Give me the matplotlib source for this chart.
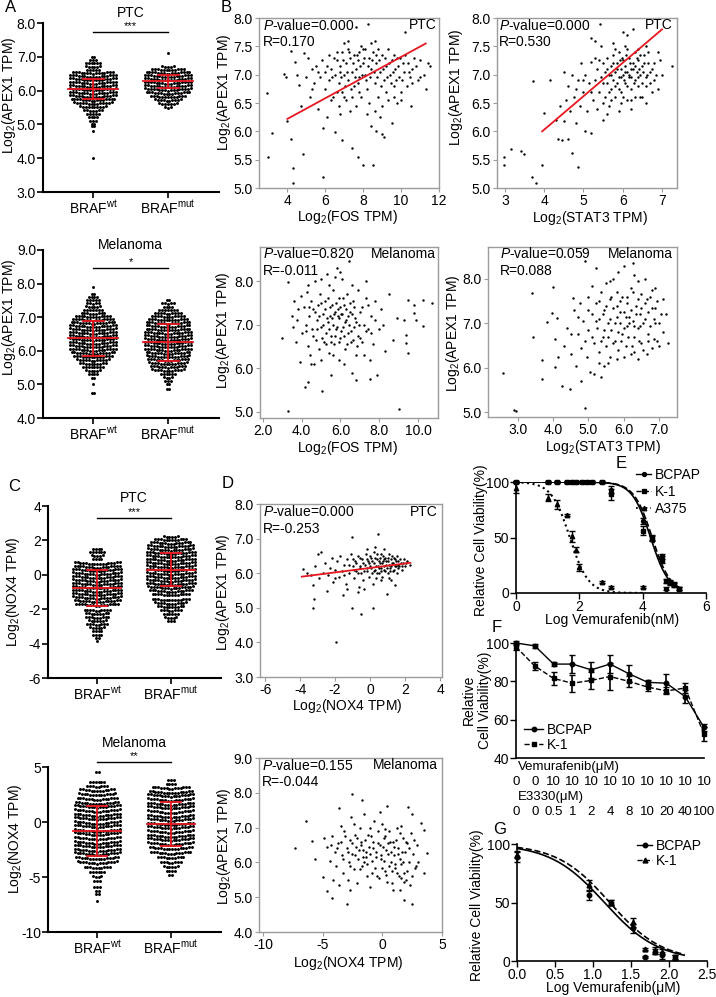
import numpy as np
import matplotlib
matplotlib.use("Agg")
import matplotlib.pyplot as plt
from matplotlib.lines import Line2D
from matplotlib.ticker import FormatStrFormatter
from matplotlib.transforms import blended_transform_factory

plt.rcParams["font.family"] = ["Liberation Sans", "DejaVu Sans"]
plt.rcParams["mathtext.fontset"] = "custom"
plt.rcParams["mathtext.rm"] = "Liberation Sans"
plt.rcParams["mathtext.it"] = "Liberation Sans:italic"
plt.rcParams["mathtext.bf"] = "Liberation Sans:bold"
plt.rcParams["axes.unicode_minus"] = False
plt.rcParams["font.size"] = 10

# ---------------- data ----------------
groups = ["BRAF$^{\\mathrm{wt}}$", "BRAF$^{\\mathrm{mut}}$"]

# A: APEX1, PTC (value level, number of dots in that row)
a_ptc_wt_lv = [4.0, 4.8, 4.95, 5.0, 5.1, 5.2, 5.3, 5.4, 5.5, 5.6, 5.7, 5.8, 5.9, 6.0, 6.1, 6.2,
               6.3, 6.4, 6.5, 6.6, 6.7, 6.8, 6.9, 7.0]
a_ptc_wt_n = [1, 1, 2, 2, 3, 4, 5, 7, 10, 14, 16, 17, 17, 17, 17, 17, 17, 17, 15, 5, 6, 6, 3, 2]
a_ptc_mut_lv = [5.5, 5.6, 5.7, 5.8, 5.9, 6.0, 6.1, 6.2, 6.3, 6.4, 6.5, 6.6, 6.7, 7.1]
a_ptc_mut_n = [3, 7, 10, 13, 16, 17, 17, 17, 17, 17, 16, 12, 5, 1]
a_ptc_mean = [6.05, 6.27]
a_ptc_sd = [0.30, 0.20]

# A: APEX1, melanoma
a_mel_wt_lv = [4.75, 5.0, 5.2, 5.3, 5.4, 5.5, 5.6, 5.7, 5.8, 5.9, 6.0, 6.1, 6.2, 6.3, 6.4, 6.5,
               6.6, 6.7, 6.8, 6.9, 7.0, 7.1, 7.2, 7.3, 7.4, 7.5, 7.6, 7.7, 7.9]
a_mel_wt_n = [2, 1, 2, 4, 6, 8, 10, 12, 14, 16, 17, 17, 17, 17, 17, 17, 17, 17, 16, 15, 13, 9,
              7, 6, 5, 5, 4, 2, 1]
a_mel_mut_lv = [4.85, 5.0, 5.1, 5.2, 5.3, 5.4, 5.5, 5.6, 5.7, 5.8, 5.9, 6.0, 6.1, 6.2, 6.3, 6.4,
                6.5, 6.6, 6.7, 6.8, 6.9, 7.0, 7.1, 7.2, 7.3, 7.4, 7.5]
a_mel_mut_n = [2, 2, 3, 4, 6, 12, 13, 14, 15, 16, 16, 17, 17, 17, 17, 17, 17, 16, 16, 16, 14,
               12, 10, 7, 4, 5, 2]
a_mel_mean = [6.38, 6.25]
a_mel_sd = [0.52, 0.55]

# C: NOX4, PTC
c_ptc_wt_lv = [-3.85, -3.7, -3.5, -3.3, -3.1, -2.9, -2.7, -2.5, -2.3, -2.1, -1.8, -1.6, -1.4,
               -1.2, -1.0, -0.8, -0.6, -0.4, -0.2, 0.0, 0.2, 0.4, 0.6, 0.9, 1.1, 1.3, 1.5]
c_ptc_wt_n = [1, 2, 4, 4, 6, 8, 7, 9, 9, 10, 16, 17, 18, 18, 18, 18, 18, 18, 18, 18, 18, 17,
              17, 4, 5, 6, 4]
c_ptc_mut_lv = [-2.7, -2.5, -2.3, -2.1, -1.9, -1.7, -1.5, -1.2, -1.0, -0.8, -0.6, -0.4, -0.2,
                0.0, 0.2, 0.4, 0.6, 0.8, 1.0, 1.2, 1.4, 1.6, 1.8, 2.0, 2.2]
c_ptc_mut_n = [3, 5, 6, 8, 10, 12, 14, 14, 16, 17, 18, 18, 18, 18, 18, 18, 18, 18, 18, 18, 17,
               17, 15, 12, 6]
c_ptc_mean = [-0.76, 0.29]
c_ptc_sd = [1.05, 0.95]

# C: NOX4, melanoma
c_mel_wt_lv = [-7.2, -6.6, -6.3, -5.9, -5.4, -5.0, -4.6, -4.2, -3.8, -3.4, -3.0, -2.7, -2.3,
               -2.0, -1.6, -1.2, -0.9, -0.5, -0.2, 0.2, 0.5, 0.9, 1.3, 1.6, 2.0, 2.4, 2.8, 3.2,
               3.6, 4.5]
c_mel_wt_n = [1, 2, 2, 3, 3, 4, 6, 10, 15, 16, 17, 17, 17, 17, 17, 17, 17, 17, 17, 17, 17, 17,
              17, 16, 15, 14, 13, 8, 6, 2]
c_mel_mut_lv = [-4.8, -4.5, -4.1, -3.7, -3.3, -2.9, -2.5, -2.1, -1.7, -1.4, -1.0, -0.6, -0.3,
                0.1, 0.4, 0.8, 1.2, 1.5, 1.9, 2.3, 2.6, 3.0, 3.4, 3.8]
c_mel_mut_n = [2, 4, 6, 8, 10, 15, 16, 17, 17, 17, 17, 17, 17, 17, 17, 17, 17, 17, 17, 17, 16,
               14, 4, 3]
c_mel_mean = [-0.8, -0.2]
c_mel_sd = [2.27, 2.0]

# B: APEX1 vs FOS, PTC  (log2 FOS, log2 APEX1)
b_ptc_fos = [(2.9, 6.68), (3.0, 5.55), (3.2, 5.97), (3.8, 7.02), (3.9, 6.95), (4.0, 6.18),
             (4.2, 5.86), (4.3, 5.36), (4.3, 5.08), (4.2, 7.42), (4.4, 7.22), (4.5, 7.0),
             (4.6, 6.82), (4.7, 6.45), (4.8, 5.6), (4.9, 7.38), (5.0, 6.95), (5.1, 7.3),
             (5.2, 6.6), (5.3, 7.1), (5.4, 6.85), (5.5, 7.15), (5.6, 6.4), (5.7, 6.95),
             (5.8, 7.25), (5.9, 6.05), (5.9, 5.2), (6.0, 6.75), (6.0, 7.05), (6.1, 6.25),
             (6.2, 7.35), (6.2, 6.9), (6.3, 7.1), (6.4, 6.6), (6.5, 7.0), (6.5, 5.98),
             (6.6, 7.25), (6.7, 6.85), (6.7, 6.45), (6.8, 7.15), (6.9, 7.4), (6.9, 6.7),
             (7.0, 7.55), (7.0, 7.0), (7.1, 6.55), (7.1, 7.2), (7.2, 7.6), (7.2, 6.9),
             (7.3, 7.3), (7.3, 6.35), (7.4, 7.05), (7.4, 5.7), (7.5, 7.35), (7.5, 6.8),
             (7.6, 7.1), (7.6, 6.45), (7.7, 7.25), (7.7, 5.55), (7.8, 6.95), (7.8, 7.4),
             (7.9, 6.6), (8.0, 7.2), (8.0, 5.4), (8.1, 7.0), (8.1, 7.45), (8.2, 6.75),
             (8.3, 7.3), (8.3, 6.5), (8.4, 7.1), (8.4, 6.1), (8.5, 7.4), (8.5, 5.4),
             (8.6, 6.85), (8.25, 7.9), (8.7, 7.2), (8.8, 6.6), (8.9, 7.05), (8.9, 6.25),
             (9.0, 7.35), (9.0, 5.95), (9.1, 6.9), (9.1, 5.9), (9.2, 7.15), (9.3, 6.55),
             (9.3, 7.45), (9.4, 7.0), (9.5, 6.15), (9.5, 7.25), (9.6, 6.8), (9.7, 7.1),
             (9.8, 6.5), (9.8, 7.3), (9.9, 6.95), (10.0, 6.7), (10.1, 7.2), (10.2, 7.35),
             (10.3, 6.8), (10.4, 7.05), (10.5, 6.45), (10.6, 6.85), (10.8, 7.15), (10.9, 6.9),
             (11.0, 7.25), (11.2, 7.0), (11.3, 6.75), (11.4, 7.2), (11.5, 7.15), (8.4, 7.55),
             (7.9, 7.5), (6.3, 6.55), (6.8, 6.3), (8.6, 6.35), (9.6, 6.6), (10.2, 7.75),
             (7.6, 7.84), (6.1, 7.15), (6.35, 6.95), (6.45, 7.3), (6.6, 6.7), (6.75, 7.05),
             (6.85, 6.95), (6.95, 7.25), (7.05, 6.8), (7.15, 7.05), (7.25, 7.4), (7.35, 6.75),
             (7.45, 7.2), (7.55, 6.95), (7.65, 7.35), (7.75, 6.85), (7.85, 7.15), (7.95, 7.0),
             (8.05, 7.3), (8.15, 6.9), (8.25, 7.15), (8.35, 6.95), (8.45, 7.25), (8.55, 7.05),
             (8.65, 7.35), (8.75, 6.95), (8.85, 7.25), (8.95, 6.8), (9.05, 7.1), (9.15, 7.3),
             (9.25, 6.95), (9.35, 7.2), (9.45, 6.85), (9.55, 7.05), (9.65, 7.35), (9.75, 6.9),
             (9.85, 7.15), (9.95, 7.3), (10.05, 6.9), (10.15, 7.05), (10.35, 7.2), (10.45, 6.95),
             (10.7, 7.3), (7.2, 7.45), (8.0, 7.45), (8.8, 7.45), (9.2, 6.7), (8.2, 6.3),
             (7.4, 6.6), (10.0, 6.55), (6.6, 7.4), (7.0, 6.6), (8.6, 7.6), (9.0, 6.45),
             (7.8, 6.7), (10.6, 7.1), (11.0, 6.95), (5.6, 7.05), (5.3, 6.75), (6.9, 5.85),
             (8.7, 6.0)]
b_ptc_fos_fit = [(4.0, 6.22), (11.3, 7.55)]

# B: APEX1 vs STAT3, PTC
b_ptc_stat3 = [(2.97, 5.55), (2.97, 5.4), (3.15, 5.68), (3.4, 5.65), (3.48, 5.6), (3.7, 5.2),
               (3.78, 5.08), (3.72, 6.88), (3.95, 5.4), (4.0, 6.32), (4.15, 6.9), (4.35, 5.87),
               (4.45, 5.85), (4.7, 5.62), (4.85, 5.37), (4.6, 5.87), (4.5, 6.18), (4.3, 6.2),
               (4.4, 6.45), (4.5, 7.05), (4.55, 6.55), (4.6, 6.8), (4.65, 6.35), (4.7, 7.0),
               (4.75, 6.6), (4.8, 6.15), (4.85, 6.9), (4.9, 6.45), (4.95, 7.2), (5.0, 6.7),
               (5.05, 6.0), (5.05, 7.0), (5.1, 6.35), (5.15, 6.85), (5.2, 5.97), (5.2, 7.22),
               (5.25, 6.55), (5.2, 7.65), (5.3, 6.9), (5.35, 6.4), (5.35, 7.1), (5.4, 6.7),
               (5.42, 7.9), (5.45, 7.5), (5.45, 6.95), (5.5, 6.2), (5.5, 7.2), (5.55, 6.6),
               (5.55, 7.05), (5.6, 6.85), (5.6, 7.3), (5.65, 6.45), (5.65, 7.0), (5.7, 6.75),
               (5.7, 7.15), (5.75, 6.9), (5.75, 7.35), (5.8, 6.6), (5.8, 7.05), (5.85, 6.85),
               (5.85, 7.2), (5.9, 6.95), (5.9, 7.4), (5.95, 6.7), (5.95, 7.1), (6.0, 7.0),
               (6.0, 7.25), (6.0, 7.75), (6.05, 6.85), (6.05, 7.15), (6.1, 7.05), (6.1, 6.55),
               (6.1, 7.7), (6.15, 7.3), (6.15, 6.95), (6.2, 7.1), (6.2, 6.75), (6.25, 7.2),
               (6.25, 7.8), (6.3, 6.9), (6.3, 7.4), (6.35, 7.05), (6.4, 6.8), (6.4, 7.25),
               (6.45, 7.0), (6.5, 7.15), (6.5, 6.6), (6.55, 7.35), (6.6, 6.95), (6.65, 7.2),
               (6.7, 6.85), (6.75, 7.1), (6.8, 6.9), (6.85, 7.0), (6.9, 7.4), (7.25, 7.15),
               (5.9, 6.35), (6.2, 6.4), (5.3, 7.6), (6.6, 7.5), (5.4, 7.25), (5.5, 6.85),
               (5.6, 7.1), (5.65, 6.7), (5.7, 7.0), (5.75, 7.2), (5.8, 6.8), (5.85, 7.1),
               (5.9, 6.75), (5.92, 7.25), (5.95, 6.95), (5.98, 7.3), (6.02, 6.9), (6.05, 7.05),
               (6.08, 7.35), (6.12, 6.8), (6.15, 7.0), (6.18, 7.2), (6.22, 6.95), (6.25, 7.1),
               (6.28, 6.85), (6.32, 7.15), (6.35, 7.3), (6.38, 6.95), (6.42, 7.1), (6.45, 7.35),
               (6.48, 6.85), (6.52, 7.05), (6.55, 7.2), (6.58, 6.8), (6.62, 7.0), (6.65, 7.4),
               (6.7, 7.05), (6.75, 6.7), (6.8, 7.2), (6.3, 6.6), (6.0, 6.6), (5.7, 6.55),
               (5.5, 6.5), (6.1, 7.45), (5.8, 7.45), (6.4, 7.45), (5.2, 6.7), (5.0, 6.9),
               (4.8, 6.75), (5.6, 6.3), (6.6, 6.5), (6.9, 6.75), (7.0, 7.0), (6.95, 7.25),
               (5.3, 7.3), (5.95, 6.5), (6.2, 6.55), (6.45, 6.6), (5.75, 7.55), (6.05, 7.5)]
b_ptc_stat3_fit = [(3.95, 6.0), (7.0, 7.8)]

# B: APEX1 vs FOS, melanoma
b_mel_fos = [(3.0, 6.7), (3.3, 7.98), (3.3, 5.02), (3.5, 7.2), (3.55, 6.95), (3.6, 7.55),
             (3.7, 6.6), (3.75, 7.1), (3.8, 7.35), (3.9, 6.15), (3.95, 7.65), (4.0, 6.8),
             (4.1, 7.4), (4.15, 5.57), (4.2, 7.0), (4.25, 7.75), (4.3, 6.5), (4.35, 5.68),
             (4.4, 7.2), (4.45, 6.3), (4.5, 7.55), (4.55, 6.9), (4.6, 7.35), (4.65, 6.1),
             (4.7, 8.0), (4.75, 6.65), (4.8, 7.1), (4.85, 7.45), (4.9, 6.45), (4.95, 7.7),
             (5.0, 6.95), (5.05, 5.48), (5.1, 7.25), (5.15, 6.6), (5.2, 7.55), (5.25, 6.8),
             (5.3, 8.15), (5.35, 7.05), (5.4, 6.35), (5.45, 7.4), (5.5, 5.85), (5.5, 6.75),
             (5.55, 7.15), (5.6, 7.8), (5.65, 6.55), (5.7, 7.3), (5.75, 6.9), (5.8, 8.3),
             (5.85, 7.2), (5.9, 6.2), (5.95, 7.6), (6.0, 6.7), (6.05, 7.25), (6.1, 8.05),
             (6.15, 6.95), (6.2, 7.45), (6.25, 6.45), (6.3, 7.1), (6.35, 7.7), (6.4, 6.8),
             (6.45, 8.45), (6.5, 7.3), (6.55, 6.6), (6.6, 5.9), (6.65, 7.55), (6.7, 6.95),
             (6.75, 7.15), (6.8, 5.72), (6.85, 6.5), (6.9, 7.8), (6.95, 7.0), (7.0, 6.7),
             (7.1, 7.4), (7.2, 6.3), (7.3, 7.6), (7.4, 6.9), (7.5, 5.75), (7.6, 7.2),
             (7.7, 6.55), (7.8, 7.55), (7.9, 5.85), (8.0, 6.9), (8.1, 7.35), (8.3, 6.4),
             (8.5, 7.7), (8.7, 6.65), (8.9, 7.15), (9.3, 7.1), (9.4, 6.77), (9.4, 6.58),
             (9.5, 6.35), (9.47, 7.57), (9.8, 7.45), (9.8, 7.27), (9.9, 7.1), (10.25, 7.57),
             (10.25, 6.97), (10.7, 7.5), (5.0, 8.05), (6.0, 8.2), (5.4, 7.9), (9.0, 5.07),
             (4.2, 6.85), (4.4, 7.4), (4.6, 6.75), (4.7, 7.3), (4.8, 6.9), (4.9, 7.2),
             (5.0, 7.5), (5.05, 6.7), (5.1, 7.0), (5.2, 7.35), (5.25, 6.55), (5.3, 7.15),
             (5.35, 7.6), (5.4, 6.9), (5.45, 7.2), (5.5, 6.6), (5.55, 7.45), (5.6, 7.0),
             (5.65, 7.25), (5.7, 6.75), (5.75, 7.5), (5.8, 6.95), (5.85, 7.35), (5.9, 6.6),
             (5.95, 7.15), (6.0, 7.4), (6.05, 6.85), (6.1, 7.25), (6.15, 7.6), (6.2, 6.75),
             (6.25, 7.05), (6.3, 7.35), (6.35, 6.55), (6.4, 7.2), (6.45, 7.0), (6.5, 7.5),
             (6.55, 6.85), (6.6, 7.25), (6.65, 6.65), (6.7, 7.4), (6.8, 7.05), (6.9, 6.75),
             (7.0, 7.3), (7.1, 6.6), (7.2, 7.0), (7.3, 6.85), (7.4, 7.45), (7.6, 6.8),
             (7.8, 7.1), (8.2, 7.0), (4.5, 6.1), (5.0, 6.2), (5.6, 6.3), (6.2, 6.1),
             (6.8, 6.3), (7.5, 6.2), (4.3, 7.9), (5.7, 8.1), (6.6, 7.9), (7.3, 8.0)]

# B: APEX1 vs STAT3, melanoma
b_mel_stat3 = [(2.57, 5.88), (2.89, 5.04), (2.95, 5.03), (3.4, 7.69), (3.43, 6.7), (3.67, 6.17),
               (3.68, 5.74), (3.99, 7.82), (3.82, 7.03), (3.96, 7.23), (4.1, 7.12), (4.05, 6.64),
               (4.05, 6.01), (4.14, 6.24), (4.24, 5.58), (4.47, 5.51), (4.56, 7.57), (4.9, 5.1),
               (4.8, 5.7), (4.9, 8.4), (4.3, 6.5), (4.4, 6.9), (4.5, 6.3), (4.6, 7.3),
               (4.65, 6.05), (4.7, 6.75), (4.75, 7.45), (4.8, 6.45), (4.85, 7.05), (4.95, 6.25),
               (5.0, 7.6), (5.0, 6.85), (5.05, 5.9), (5.1, 7.2), (5.15, 6.55), (5.2, 7.45),
               (5.2, 8.25), (5.25, 6.9), (5.3, 7.1), (5.3, 6.35), (5.35, 7.7), (5.4, 6.7),
               (5.45, 7.3), (5.5, 6.5), (5.5, 7.9), (5.55, 7.0), (5.6, 7.55), (5.6, 6.25),
               (5.65, 6.85), (5.7, 7.35), (5.7, 8.0), (5.75, 6.6), (5.8, 7.15), (5.8, 7.7),
               (5.85, 6.4), (5.9, 7.0), (5.9, 7.5), (5.95, 6.75), (6.0, 7.25), (6.0, 8.3),
               (6.05, 6.5), (6.1, 7.6), (6.1, 6.95), (6.15, 7.15), (6.2, 6.3), (6.2, 7.8),
               (6.25, 7.05), (6.3, 6.7), (6.3, 8.1), (6.35, 7.4), (6.4, 6.9), (6.4, 6.2),
               (6.45, 7.2), (6.5, 7.65), (6.5, 6.55), (6.55, 7.0), (6.6, 7.45), (6.65, 6.3),
               (6.7, 7.25), (6.7, 6.75), (6.75, 7.6), (6.8, 6.45), (6.85, 7.1), (6.9, 7.35),
               (6.95, 6.6), (7.0, 7.0), (7.1, 6.8), (7.2, 7.2), (7.25, 6.55), (5.55, 6.1),
               (5.15, 5.85), (5.35, 5.8), (6.25, 8.35), (5.85, 8.15), (5.45, 6.05), (6.0, 6.25),
               (6.6, 8.0), (6.8, 7.75), (5.0, 7.3), (5.1, 6.7), (5.2, 7.05), (5.3, 7.5),
               (5.35, 6.6), (5.4, 7.2), (5.45, 6.85), (5.5, 7.4), (5.55, 6.7), (5.6, 7.1),
               (5.65, 7.6), (5.7, 6.55), (5.75, 7.0), (5.8, 7.4), (5.85, 6.8), (5.9, 7.25),
               (5.92, 6.6), (5.95, 7.6), (6.0, 6.9), (6.05, 7.15), (6.1, 7.45), (6.12, 6.7),
               (6.15, 7.0), (6.2, 7.3), (6.22, 6.5), (6.25, 7.7), (6.3, 6.95), (6.35, 7.2),
               (6.4, 7.55), (6.42, 6.6), (6.45, 6.95), (6.5, 7.35), (6.55, 6.4), (6.6, 7.1),
               (6.65, 7.55), (6.7, 6.6), (6.75, 6.95), (6.8, 7.35), (6.85, 6.65), (6.9, 7.0),
               (6.95, 7.5), (7.0, 6.5), (7.05, 7.2), (5.3, 6.1), (5.8, 6.2), (6.3, 6.35),
               (4.9, 6.6), (4.7, 7.15), (4.5, 6.75), (5.1, 7.85), (5.6, 7.95), (6.4, 7.95),
               (6.9, 7.8), (7.1, 7.55)]

# D: APEX1 vs NOX4, PTC
d_ptc_nox4 = [(-3.83, 6.13), (-3.6, 6.0), (-3.4, 5.95), (-3.26, 5.0), (-3.2, 5.26), (-3.26, 5.65),
              (-3.14, 6.2), (-2.97, 6.56), (-2.8, 6.6), (-2.9, 5.85), (-2.7, 6.0), (-2.6, 6.3),
              (-2.46, 5.5), (-2.4, 5.95), (-2.3, 6.15), (-2.2, 6.45), (-2.1, 5.75), (-2.0, 6.1),
              (-1.94, 4.02), (-1.9, 6.35), (-1.8, 5.9), (-1.7, 6.5), (-1.6, 6.05), (-1.54, 5.36),
              (-1.5, 6.25), (-1.4, 5.7), (-1.3, 6.4), (-1.2, 6.0), (-1.1, 6.55), (-1.03, 5.0),
              (-1.03, 7.05), (-1.0, 6.2), (-0.9, 5.85), (-0.85, 6.35), (-0.8, 6.05), (-0.7, 6.5),
              (-0.65, 5.6), (-0.6, 6.2), (-0.51, 4.82), (-0.5, 6.0), (-0.45, 6.4), (-0.4, 5.8),
              (-0.3, 6.25), (-0.25, 6.55), (-0.2, 6.05), (-0.1, 6.35), (-0.05, 5.9), (0.0, 6.2),
              (0.05, 6.45), (0.1, 6.0), (0.17, 5.0), (0.2, 6.3), (0.25, 6.6), (0.3, 6.1),
              (0.35, 5.85), (0.4, 6.4), (0.45, 6.2), (0.46, 7.12), (0.5, 6.0), (0.55, 6.3),
              (0.6, 6.55), (0.65, 6.15), (0.7, 5.9), (0.75, 6.35), (0.8, 6.1), (0.85, 6.45),
              (0.9, 6.25), (0.97, 5.4), (1.0, 6.0), (1.05, 6.35), (1.1, 6.55), (1.15, 6.15),
              (1.2, 5.8), (1.25, 6.3), (1.3, 6.05), (1.35, 6.45), (1.4, 6.2), (1.5, 6.35),
              (1.55, 6.0), (1.6, 6.25), (1.7, 6.4), (1.8, 6.1), (1.9, 6.3), (2.0, 6.2),
              (2.1, 6.35), (2.3, 6.25), (-0.15, 6.7), (0.3, 6.75), (-0.7, 5.45), (0.8, 6.7),
              (-1.3, 5.55), (1.45, 5.65), (0.15, 5.7), (-0.35, 5.55), (-1.0, 6.4), (-0.9, 6.1),
              (-0.8, 6.3), (-0.7, 6.0), (-0.6, 6.45), (-0.55, 6.15), (-0.4, 6.3), (-0.35, 6.05),
              (-0.2, 6.4), (-0.15, 6.15), (-0.05, 6.3), (0.0, 6.5), (0.08, 6.15), (0.12, 6.35),
              (0.22, 6.05), (0.28, 6.45), (0.32, 6.2), (0.38, 6.55), (0.42, 6.0), (0.5, 6.35),
              (0.52, 6.15), (0.58, 6.45), (0.62, 6.05), (0.68, 6.3), (0.72, 6.5), (0.78, 6.2),
              (0.82, 6.4), (0.88, 6.05), (0.92, 6.35), (0.98, 6.15), (1.02, 6.45), (1.08, 6.25),
              (1.12, 6.05), (1.18, 6.4), (1.22, 6.2), (1.28, 6.5), (1.32, 6.3), (1.38, 6.1),
              (1.42, 6.4), (1.48, 6.2), (1.52, 6.5), (1.58, 6.15), (1.62, 6.35), (1.68, 6.2),
              (1.75, 6.3), (1.85, 6.2), (1.95, 6.4), (2.05, 6.3), (-1.5, 5.95), (-2.0, 5.85),
              (-1.2, 6.25), (0.6, 5.8), (1.1, 5.85)]
d_ptc_nox4_fit = [(-3.9, 5.9), (2.3, 6.3)]

# D: APEX1 vs NOX4, melanoma
d_mel_nox4 = [(-7.33, 6.41), (-6.4, 7.19), (-5.9, 6.61), (-5.67, 6.1), (-5.0, 5.58), (-4.67, 5.18),
              (-4.25, 4.98), (-3.0, 4.8), (-2.58, 7.96), (-3.67, 7.55), (-1.67, 7.8), (0.42, 7.63),
              (2.17, 7.58), (2.5, 7.4), (1.83, 4.92), (2.5, 4.8), (3.5, 5.69), (3.75, 6.27),
              (3.5, 6.93), (3.25, 7.13), (-4.9, 6.7), (-4.6, 6.45), (-4.4, 6.05), (-4.2, 6.75),
              (-4.0, 6.3), (-3.9, 5.9), (-3.7, 6.55), (-3.5, 7.05), (-3.4, 6.2), (-3.3, 5.7),
              (-3.2, 6.9), (-3.0, 6.4), (-2.9, 5.5), (-2.8, 6.0), (-2.7, 6.65), (-2.6, 7.3),
              (-2.5, 6.25), (-2.4, 5.8), (-2.3, 6.8), (-2.2, 6.45), (-2.1, 5.4), (-2.0, 6.1),
              (-1.9, 7.0), (-1.8, 6.6), (-1.7, 5.9), (-1.6, 6.35), (-1.5, 7.4), (-1.4, 6.15),
              (-1.3, 5.6), (-1.2, 6.8), (-1.1, 6.45), (-1.0, 5.3), (-0.9, 6.05), (-0.8, 6.6),
              (-0.7, 7.2), (-0.6, 5.85), (-0.5, 6.3), (-0.4, 6.9), (-0.3, 5.55), (-0.2, 6.5),
              (-0.1, 6.1), (0.0, 7.1), (0.1, 6.7), (0.2, 5.75), (0.3, 6.35), (0.4, 5.45),
              (0.5, 6.55), (0.6, 6.9), (0.7, 6.0), (0.8, 5.4), (0.9, 6.6), (1.0, 6.2),
              (1.1, 5.85), (1.2, 7.0), (1.3, 6.4), (1.4, 5.6), (1.5, 6.1), (1.6, 5.95),
              (1.7, 6.7), (1.8, 5.7), (1.9, 6.3), (2.0, 5.5), (2.1, 6.55), (2.2, 6.0),
              (2.3, 5.35), (2.4, 6.85), (2.6, 6.25), (2.7, 5.85), (2.9, 6.5), (3.0, 6.0),
              (-1.5, 6.0), (-2.7, 5.2), (0.9, 5.2), (-0.2, 7.45), (1.5, 5.2), (-3.6, 5.35),
              (-3.8, 6.4), (-3.5, 6.6), (-3.3, 6.1), (-3.1, 6.75), (-2.9, 6.3), (-2.7, 5.9),
              (-2.5, 6.55), (-2.3, 6.2), (-2.1, 6.7), (-1.95, 6.35), (-1.85, 5.8), (-1.75, 6.5),
              (-1.65, 6.15), (-1.45, 6.65), (-1.35, 6.3), (-1.25, 5.95), (-1.05, 6.25),
              (-0.95, 6.75), (-0.85, 5.7), (-0.75, 6.4), (-0.55, 6.15), (-0.45, 5.6),
              (-0.35, 6.55), (-0.15, 6.2), (-0.05, 5.85), (0.05, 6.45), (0.15, 6.05), (0.25, 6.75),
              (0.35, 5.65), (0.45, 6.25), (0.55, 5.9), (0.65, 6.6), (0.75, 6.3), (0.85, 5.75),
              (0.95, 6.45), (1.05, 5.95), (1.15, 6.65), (1.25, 5.7), (1.35, 6.25), (1.45, 6.85),
              (1.55, 5.55), (1.65, 6.3), (1.75, 6.0), (1.85, 5.45), (1.95, 6.6), (2.05, 5.75),
              (2.25, 6.4), (2.45, 5.6), (2.65, 6.65), (2.85, 5.9), (-4.3, 6.5), (-4.1, 5.5),
              (-2.4, 7.1), (-1.0, 7.0), (0.2, 6.95), (1.6, 7.05)]

# E: viability vs log vemurafenib (nM)
e_logc = [0, 1.0, 1.3, 1.6, 1.78, 1.9, 2.08, 2.23, 2.4, 2.7, 3.0, 4.0, 4.3, 4.6, 4.75, 4.85,
          5.0, 5.15]
e_bcpap = [100, 100, 100, 100, 100, 100, 100, 100, 100, 100, 93, 65, 50, 33, 4, 10, 8, 4]
e_bcpap_err = [1, 1, 1, 1, 1, 1, 1, 1, 1, 1, 3, 3, 2, 2, 1, 2, 2, 1]
e_k1 = [100, 100, 100, 100, 100, 100, 100, 100, 100, 100, 89, 56, 49, 30, 11, 9, 7, 4]
e_k1_err = [1, 1, 1, 1, 1, 1, 1, 1, 1, 1, 5, 4, 2, 3, 2, 2, 2, 1]
e_a375_logc = [0, 1.0, 1.3, 1.6, 1.78, 1.9, 2.0, 2.7, 3.0, 4.0]
e_a375 = [95, 86, 80, 70, 51, 39, 23, 10, 5.5, 5.5]
e_a375_err = [5, 3, 4, 1, 5, 2, 3, 1, 1, 1]
e_fit_logic50 = [4.25, 4.3, 1.7]     # BCPAP, K-1, A375
e_fit_hill = [1.5, 1.5, 1.5]
e_fit_end = [5.2, 5.2, 4.1]

# F: viability with vemurafenib + E3330
f_vem = ["0", "0", "10", "10", "10", "10", "10", "10", "10", "10", "10"]
f_e3330 = ["0", "0", "0.5", "1", "2", "4", "8", "10", "20", "40", "100"]
f_bcpap = [100, 98.5, 89, 89, 86, 89, 84, 79.5, 79, 72, 56]
f_bcpap_err = [1, 1, 1.2, 4.8, 4.2, 4.8, 4.3, 1.2, 5, 3.5, 2]
f_k1 = [98, 88, 81.5, 79, 80.5, 82.5, 80, 77, 75, 76.5, 52.5]
f_k1_err = [1.5, 2, 3.5, 4.5, 4.5, 7, 3, 1.8, 1.8, 2.5, 3.5]

# G: viability vs log vemurafenib (uM)
g_logc = [0.0, 0.95, 1.24, 1.53, 1.69, 1.81, 1.91, 2.08]
g_bcpap = [89, 56, 50, 28, 3.5, 8, 5, 3]
g_bcpap_err = [4, 4, 2, 4, 1, 2, 3, 2]
g_k1 = [91, 65, 50, 33, 10, 9, 8, 3.5]
g_k1_err = [3, 4, 2, 4, 1, 3, 2, 2]
g_fit_logic50 = [1.15, 1.22]
g_fit_hill = [1.22, 1.25]

RED = "#e8171f"
GRAY = "#9c9c9c"

# ---------------- helpers ----------------
W, H = 716, 997
fig = plt.figure(figsize=(W / 100, H / 100), dpi=100)


def add_box(l, t, r, b):
    return fig.add_axes([l / W, 1 - b / H, (r - l) / W, (b - t) / H])


def ftext(x, y, s, **kw):
    kw.setdefault("fontsize", 10)
    kw.setdefault("ha", "center")
    kw.setdefault("va", "center")
    fig.text(x / W, 1 - y / H, s, **kw)


def swarm_panel(box, ylim, yticks, yfmt, data, step, title, title_y, stars, line_y, ylab_xy):
    ax = add_box(*box)
    for pos, (lv, cnt, mean, sd) in enumerate(data):
        xs, ys = [], []
        for v, n in zip(lv, cnt):
            off = (np.arange(n) - (n - 1) / 2) * 0.038
            xs += list(pos + off)
            ys += list(v + 2.2 * step * np.abs(off))
        ax.scatter(xs, ys, s=4.5, c="black", linewidths=0, zorder=2, clip_on=False)
        ax.plot([pos - 0.33, pos + 0.33], [mean, mean], color=RED, lw=1.3, zorder=3)
        for m in (mean - sd, mean + sd):
            ax.plot([pos - 0.14, pos + 0.14], [m, m], color=RED, lw=1.3, zorder=3)
        ax.plot([pos, pos], [mean - sd, mean + sd], color=RED, lw=1.3, zorder=3)
    ax.set_xlim(-0.667, 1.68)
    ax.set_ylim(*ylim)
    ax.set_yticks(yticks)
    ax.yaxis.set_major_formatter(FormatStrFormatter(yfmt))
    ax.set_xticks([0, 1])
    ax.set_xticklabels(groups)
    for s in ("top", "right"):
        ax.spines[s].set_visible(False)
    for s in ("left", "bottom"):
        ax.spines[s].set_linewidth(1.5)
    ax.tick_params(direction="out", length=4, width=1.2, labelsize=10, pad=1)
    tr = blended_transform_factory(ax.transData, fig.transFigure)
    ax.plot([0, 1], [1 - line_y / H] * 2, transform=tr, color="black", lw=1.0, clip_on=False)
    ax.text(0.5, 1 - (line_y - 6) / H, stars, transform=tr, ha="center", va="center", fontsize=8)
    ax.text(0.5, 1 - title_y / H, title, transform=tr, ha="center", va="center", fontsize=10)
    ylabel = "Log$_2$(APEX1 TPM)" if yfmt == "%.1f" else "Log$_2$(NOX4 TPM)"
    ftext(ylab_xy[0], ylab_xy[1], ylabel, rotation=90)
    return ax


def scatter_panel(box, xlim, ylim, xticks, yticks, xfmt, yfmt, pts, pval, rval, tag,
                  xlabel, xlab_xy, ylab_xy, txt_x, txt_y, tag_x, fit=None):
    ax = add_box(*box)
    x, y = zip(*pts)
    ax.scatter(x, y, s=3, c="black", linewidths=0, zorder=2)
    if fit is not None:
        fx, fy = zip(*fit)
        ax.plot(fx, fy, color=RED, lw=1.3, zorder=3)
    ax.set_xlim(*xlim)
    ax.set_ylim(*ylim)
    ax.set_xticks(xticks)
    ax.set_yticks(yticks)
    ax.xaxis.set_major_formatter(FormatStrFormatter(xfmt))
    ax.yaxis.set_major_formatter(FormatStrFormatter(yfmt))
    for s in ax.spines.values():
        s.set_color(GRAY)
        s.set_linewidth(1.0)
    ax.tick_params(direction="out", length=3, width=0.8, color=GRAY, labelsize=10, pad=1.5)
    ftext(txt_x, txt_y, "$P$-value=" + pval, ha="left")
    ftext(txt_x, txt_y + 17, "R=" + rval, ha="left")
    ftext(tag_x, txt_y, tag, ha="right")
    ftext(xlab_xy[0], xlab_xy[1], xlabel)
    ftext(ylab_xy[0], ylab_xy[1], "Log$_2$(APEX1 TPM)", rotation=90)
    return ax


def hill(x, logic50, h, top=100.0):
    return top / (1 + 10 ** ((x - logic50) * h))


def style_curve(ax):
    for s in ("top", "right"):
        ax.spines[s].set_visible(False)
    for s in ("left", "bottom"):
        ax.spines[s].set_linewidth(1.2)
    ax.tick_params(direction="out", length=4, width=1.0, labelsize=10, pad=1)


# ---------------- A ----------------
swarm_panel((43, 23, 219, 192), (3, 8), np.arange(3, 8.1, 1.0), "%.1f",
            [(a_ptc_wt_lv, a_ptc_wt_n, a_ptc_mean[0], a_ptc_sd[0]),
             (a_ptc_mut_lv, a_ptc_mut_n, a_ptc_mean[1], a_ptc_sd[1])],
            0.1, "PTC", 13, "***", 32, (9, 95))
swarm_panel((43, 250, 219, 418), (4, 9), np.arange(4, 9.1, 1.0), "%.1f",
            [(a_mel_wt_lv, a_mel_wt_n, a_mel_mean[0], a_mel_sd[0]),
             (a_mel_mut_lv, a_mel_mut_n, a_mel_mean[1], a_mel_sd[1])],
            0.1, "Melanoma", 245, "*", 268, (9, 317))

# ---------------- C ----------------
swarm_panel((48, 506, 221, 678), (-6, 4), np.arange(-6, 5, 2), "%d",
            [(c_ptc_wt_lv, c_ptc_wt_n, c_ptc_mean[0], c_ptc_sd[0]),
             (c_ptc_mut_lv, c_ptc_mut_n, c_ptc_mean[1], c_ptc_sd[1])],
            0.2, "PTC", 498, "***", 518, (13, 592))
swarm_panel((48, 767, 221, 932), (-10, 5), np.arange(-10, 6, 5), "%d",
            [(c_mel_wt_lv, c_mel_wt_n, c_mel_mean[0], c_mel_sd[0]),
             (c_mel_mut_lv, c_mel_mut_n, c_mel_mean[1], c_mel_sd[1])],
            0.37, "Melanoma", 743, "**", 762, (15, 839))

# ---------------- B ----------------
scatter_panel((259, 18, 439, 188), (2.5, 12), (5, 8), [4, 6, 8, 10, 12],
              np.arange(5, 8.01, 0.5), "%d", "%.1f", b_ptc_fos, "0.000", "0.170", "PTC",
              "Log$_2$(FOS TPM)", (348, 217), (224, 92), 263, 25, 437, fit=b_ptc_fos_fit)
scatter_panel((497, 18, 677, 188), (2.8, 7.38), (5, 8), [3, 4, 5, 6, 7],
              np.arange(5, 8.01, 0.5), "%d", "%.1f", b_ptc_stat3, "0.000", "0.530", "PTC",
              "Log$_2$(STAT3 TPM)", (590, 218), (456, 87), 499, 25, 673, fit=b_ptc_stat3_fit)
scatter_panel((260, 247, 438, 418), (1.85, 11.03), (4.86, 8.78), [2, 4, 6, 8, 10],
              [5, 6, 7, 8], "%.1f", "%.1f", b_mel_fos, "0.820", "-0.011", "Melanoma",
              "Log$_2$(FOS TPM)", (348, 448), (223, 330), 263, 254, 436)
scatter_panel((488, 247, 677, 417), (2.15, 7.51), (4.89, 8.72), [3, 4, 5, 6, 7],
              [5, 6, 7, 8], "%.1f", "%.1f", b_mel_stat3, "0.059", "0.088", "Melanoma",
              "Log$_2$(STAT3 TPM)", (603, 447), (453, 333), 500, 254, 673)

# ---------------- D ----------------
scatter_panel((260, 504, 442, 677), (-6.29, 4.11), (3, 8), [-6, -4, -2, 0, 2, 4],
              [3, 4, 5, 6, 7, 8], "%d", "%.1f", d_ptc_nox4, "0.000", "-0.253", "PTC",
              "Log$_2$(NOX4 TPM)", (347, 706), (223, 592), 263, 512, 438, fit=d_ptc_nox4_fit)
scatter_panel((259, 758, 442, 932), (-10.33, 5.0), (4, 9), [-10, -5, 0, 5],
              [4, 5, 6, 7, 8, 9], "%d", "%.1f", d_mel_nox4, "0.155", "-0.044", "Melanoma",
              "Log$_2$(NOX4 TPM)", (348, 963), (224, 846), 262, 765, 438)

# ---------------- E ----------------
ax = add_box(516, 482, 706, 593)
ax.errorbar(e_logc, e_bcpap, yerr=e_bcpap_err, fmt="o", color="black", ms=2.8,
            capsize=2, elinewidth=1, clip_on=False, zorder=3)
ax.errorbar(e_logc, e_k1, yerr=e_k1_err, fmt="s", color="black", ms=2.8,
            capsize=2, elinewidth=1, clip_on=False, zorder=3)
ax.errorbar(e_a375_logc, e_a375, yerr=e_a375_err, fmt="^", color="black", ms=3.2,
            capsize=2, elinewidth=1, clip_on=False, zorder=3)
for ic, h, end, ls in zip(e_fit_logic50, e_fit_hill, e_fit_end, ["-", "--", ":"]):
    xc = np.linspace(0, end, 200)
    ax.plot(xc, hill(xc, ic, h), color="black", lw=1.2 if ls != ":" else 1.5, ls=ls)
ax.set_xlim(0, 6)
ax.set_ylim(0, 100)
ax.set_xticks([0, 2, 4, 6])
ax.set_yticks([0, 50, 100])
style_curve(ax)
ax.legend(handles=[Line2D([], [], color="black", ls="-", marker="o", ms=2.8, lw=1),
                   Line2D([], [], color="black", ls="--", marker="s", ms=2.8, lw=1),
                   Line2D([], [], color="black", ls=":", marker="^", ms=3.2, lw=1.3)],
          labels=["BCPAP", "K-1", "A375"], loc="upper left", frameon=False, fontsize=10,
          bbox_to_anchor=(636 / W, 1 - 468 / H), bbox_transform=fig.transFigure,
          handlelength=1.1, handletextpad=0.25, labelspacing=0.2, borderpad=0,
          borderaxespad=0)
ftext(612, 620, "Log Vemurafenib(nM)")
ftext(481, 540, "Relative Cell Viability(%)", rotation=90)

# ---------------- F ----------------
ax = add_box(516, 643, 704, 758)
fx = np.arange(len(f_bcpap))
ax.errorbar(fx, f_bcpap, yerr=f_bcpap_err, fmt="-o", color="black", ms=3.2, lw=1.0,
            capsize=2.5, elinewidth=1.2, clip_on=False, zorder=3)
ax.errorbar(fx, f_k1, yerr=f_k1_err, fmt="--s", color="black", ms=3.2, lw=1.0,
            capsize=2.5, elinewidth=1.2, clip_on=False, zorder=3)
ax.set_xlim(0, 10)
ax.set_ylim(40, 100)
ax.set_yticks([40, 60, 80, 100])
ax.set_xticks([])
style_curve(ax)
ax.legend(handles=[Line2D([], [], color="black", ls="-", marker="o", ms=3.2, lw=1),
                   Line2D([], [], color="black", ls="--", marker="s", ms=3.2, lw=1)],
          labels=["BCPAP", "K-1"], loc="upper left", frameon=False, fontsize=10,
          bbox_to_anchor=(524 / W, 1 - 723 / H), bbox_transform=fig.transFigure,
          handlelength=1.4, handletextpad=0.25, labelspacing=0.05, borderpad=0,
          borderaxespad=0)
tr = blended_transform_factory(ax.transData, fig.transFigure)
for i, (v, e) in enumerate(zip(f_vem, f_e3330)):
    ax.text(i, 1 - 782 / H, v, transform=tr, ha="center", va="center", fontsize=9.5)
    ax.text(i, 1 - 812 / H, e, transform=tr, ha="center", va="center", fontsize=9.5)
ftext(518, 767, "Vemurafenib(μM)", ha="left", fontsize=9.5)
ftext(518, 797, "E3330(μM)", ha="left", fontsize=9.5)
ftext(477, 700, "Relative\nCell Viability(%)", rotation=90, linespacing=1.25)

# ---------------- G ----------------
ax = add_box(517, 844, 707, 961)
ax.errorbar(g_logc, g_bcpap, yerr=g_bcpap_err, fmt="o", color="black", ms=3.2,
            capsize=2, elinewidth=1, clip_on=False, zorder=3)
ax.errorbar(g_logc, g_k1, yerr=g_k1_err, fmt="^", color="black", ms=3.5,
            capsize=2, elinewidth=1, clip_on=False, zorder=3)
for ic, h, ls in zip(g_fit_logic50, g_fit_hill, ["-", "--"]):
    xc = np.linspace(0, 2.2, 200)
    ax.plot(xc, hill(xc, ic, h), color="black", lw=1.2, ls=ls)
ax.set_xlim(0, 2.5)
ax.set_ylim(0, 100)
ax.set_xticks([0, 0.5, 1.0, 1.5, 2.0, 2.5])
ax.xaxis.set_major_formatter(FormatStrFormatter("%.1f"))
ax.set_yticks([0, 50, 100])
style_curve(ax)
ax.legend(handles=[Line2D([], [], color="black", ls="-", marker="o", ms=3.2, lw=1),
                   Line2D([], [], color="black", ls="--", marker="^", ms=3.5, lw=1)],
          labels=["BCPAP", "K-1"], loc="upper left", frameon=False, fontsize=10,
          bbox_to_anchor=(637 / W, 1 - 839 / H), bbox_transform=fig.transFigure,
          handlelength=1.1, handletextpad=0.25, labelspacing=0.05, borderpad=0,
          borderaxespad=0)
ftext(613, 988, "Log Vemurafenib(μM)")
ftext(477, 905, "Relative Cell Viability(%)", rotation=90)

# ---------------- panel letters ----------------
for letter, (px, py) in zip("ABCDEFG", [(11, 7), (226, 7), (14, 486), (228, 484),
                                        (621, 463), (497, 627), (500, 829)]):
    ftext(px, py, letter, fontsize=12)

fig.savefig("out.png", dpi=100)
